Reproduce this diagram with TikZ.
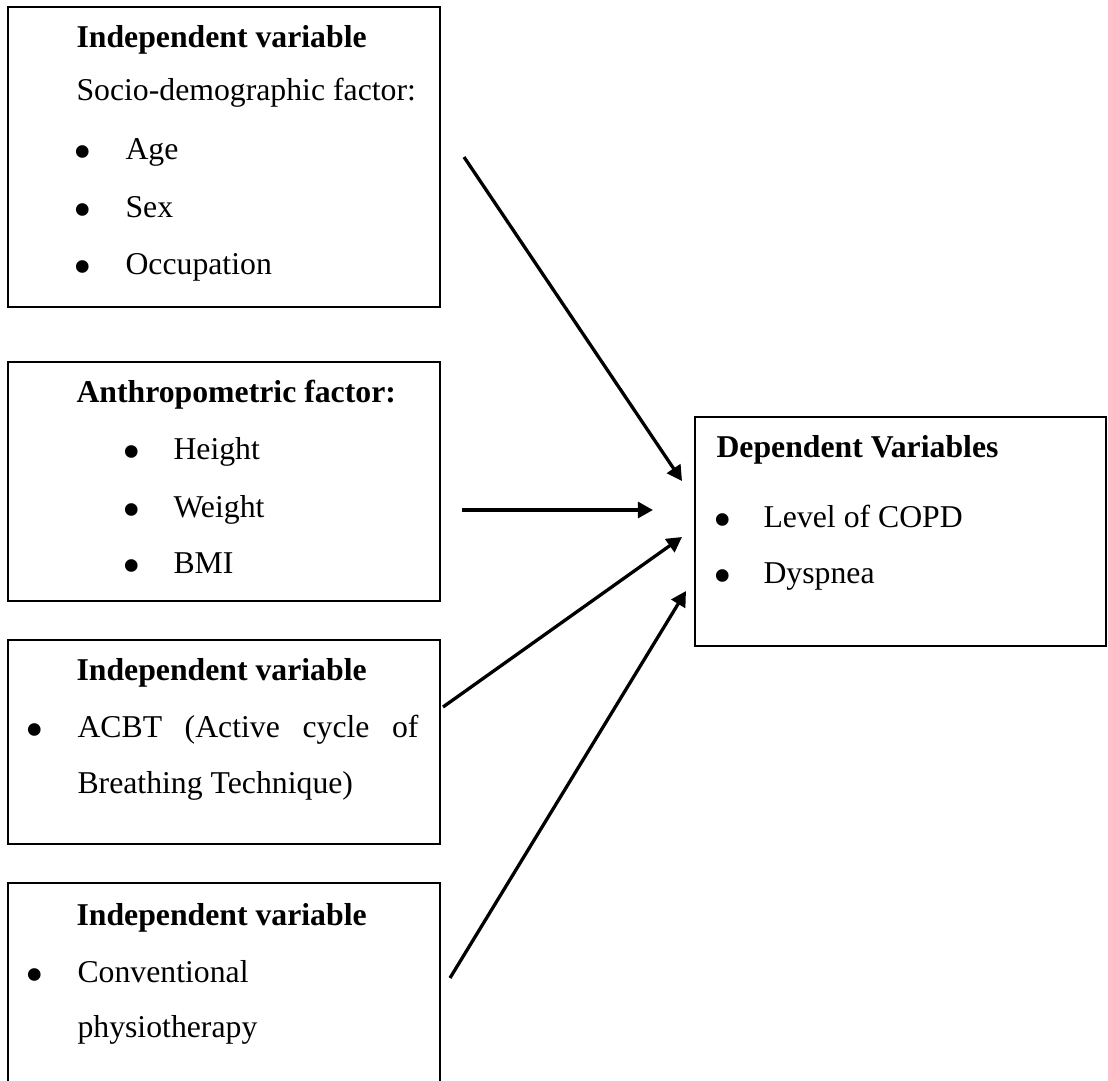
\documentclass[tikz,border=0pt]{standalone}
\usepackage{fontspec}
\setmainfont{Liberation Serif}
\usetikzlibrary{arrows.meta,fit}
\newcommand{\bigbul}{\smash{\raisebox{-3.8pt}{\fontsize{20pt}{20pt}\selectfont\textbullet}}}
\begin{document}
\begin{tikzpicture}[x=0.378pt,y=-0.378pt,
  txt/.style={anchor=base west,inner sep=0,font=\fontsize{12pt}{14pt}\selectfont},
  ttl/.style={anchor=base west,inner sep=0,font=\fontsize{12pt}{14pt}\selectfont\bfseries},
  bul/.style={anchor=base,inner sep=0},
  box/.style={draw=black,line width=0.45pt,inner sep=0},
  arr/.style={line width=1.25pt,-{Triangle[length=5.7pt,width=6pt]}}]
\useasboundingbox (0,0) rectangle (1108,1081);
\clip (0,0) rectangle (1108,1081);

% boxes
\node[box,fit={(8,7)(440,307)}] (b1) {};
\node[box,fit={(8,362)(440,601)}] (b2) {};
\node[box,fit={(8,640)(440,844)}] (b3) {};
\node[box,fit={(8,883)(440,1100)}] (b4) {};
\node[box,fit={(695,417)(1106,646)}] (dv) {};

% box 1
\node[ttl] (t1) at (76,47) {Independent variable};
\node[txt] (s1) at (76,100) {Socio-demographic factor:};
\node[bul] (p11) at (83,159) {\bigbul};
\node[txt] (l11) at (125,159) {Age};
\node[bul] (p12) at (83,217) {\bigbul};
\node[txt] (l12) at (125,217) {Sex};
\node[bul] (p13) at (83,274) {\bigbul};
\node[txt] (l13) at (125,274) {Occupation};

% box 2
\node[ttl] (t2) at (76,402) {Anthropometric factor:};
\node[bul] (p21) at (132,459) {\bigbul};
\node[txt] (l21) at (173,459) {Height};
\node[bul] (p22) at (132,517) {\bigbul};
\node[txt] (l22) at (173,517) {Weight};
\node[bul] (p23) at (132,573) {\bigbul};
\node[txt] (l23) at (173,573) {BMI};

% box 3
\node[ttl] (t3) at (76,680) {Independent variable};
\node[bul] (p31) at (35,737) {\bigbul};
\node[txt] (l31) at (77,737) {\makebox[128.9pt][s]{ACBT (Active cycle of}};
\node[txt] (l32) at (77,793) {Breathing Technique)};

% box 4
\node[ttl] (t4) at (76,925) {Independent variable};
\node[bul] (p41) at (35,982) {\bigbul};
\node[txt] (l41) at (77,982) {Conventional};
\node[txt] (l42) at (77,1037) {physiotherapy};

% dependent box
\node[ttl] (td) at (716,457) {Dependent Variables};
\node[bul] (pd1) at (723,527) {\bigbul};
\node[txt] (ld1) at (763,527) {Level of COPD};
\node[bul] (pd2) at (723,583) {\bigbul};
\node[txt] (ld2) at (763,583) {Dyspnea};

% arrows
\coordinate (a1s) at (464,157);
\coordinate (a1e) at (682,481);
\coordinate (a2s) at (462,510);
\coordinate (a2e) at (653,510);
\coordinate (a3s) at (443,707);
\coordinate (a3e) at (682,537);
\coordinate (a4s) at (450,978);
\coordinate (a4e) at (686,591);
\draw[arr] (a1s) -- (a1e);
\draw[arr] (a2s) -- (a2e);
\draw[arr] (a3s) -- (a3e);
\draw[arr] (a4s) -- (a4e);
\end{tikzpicture}
\end{document}
